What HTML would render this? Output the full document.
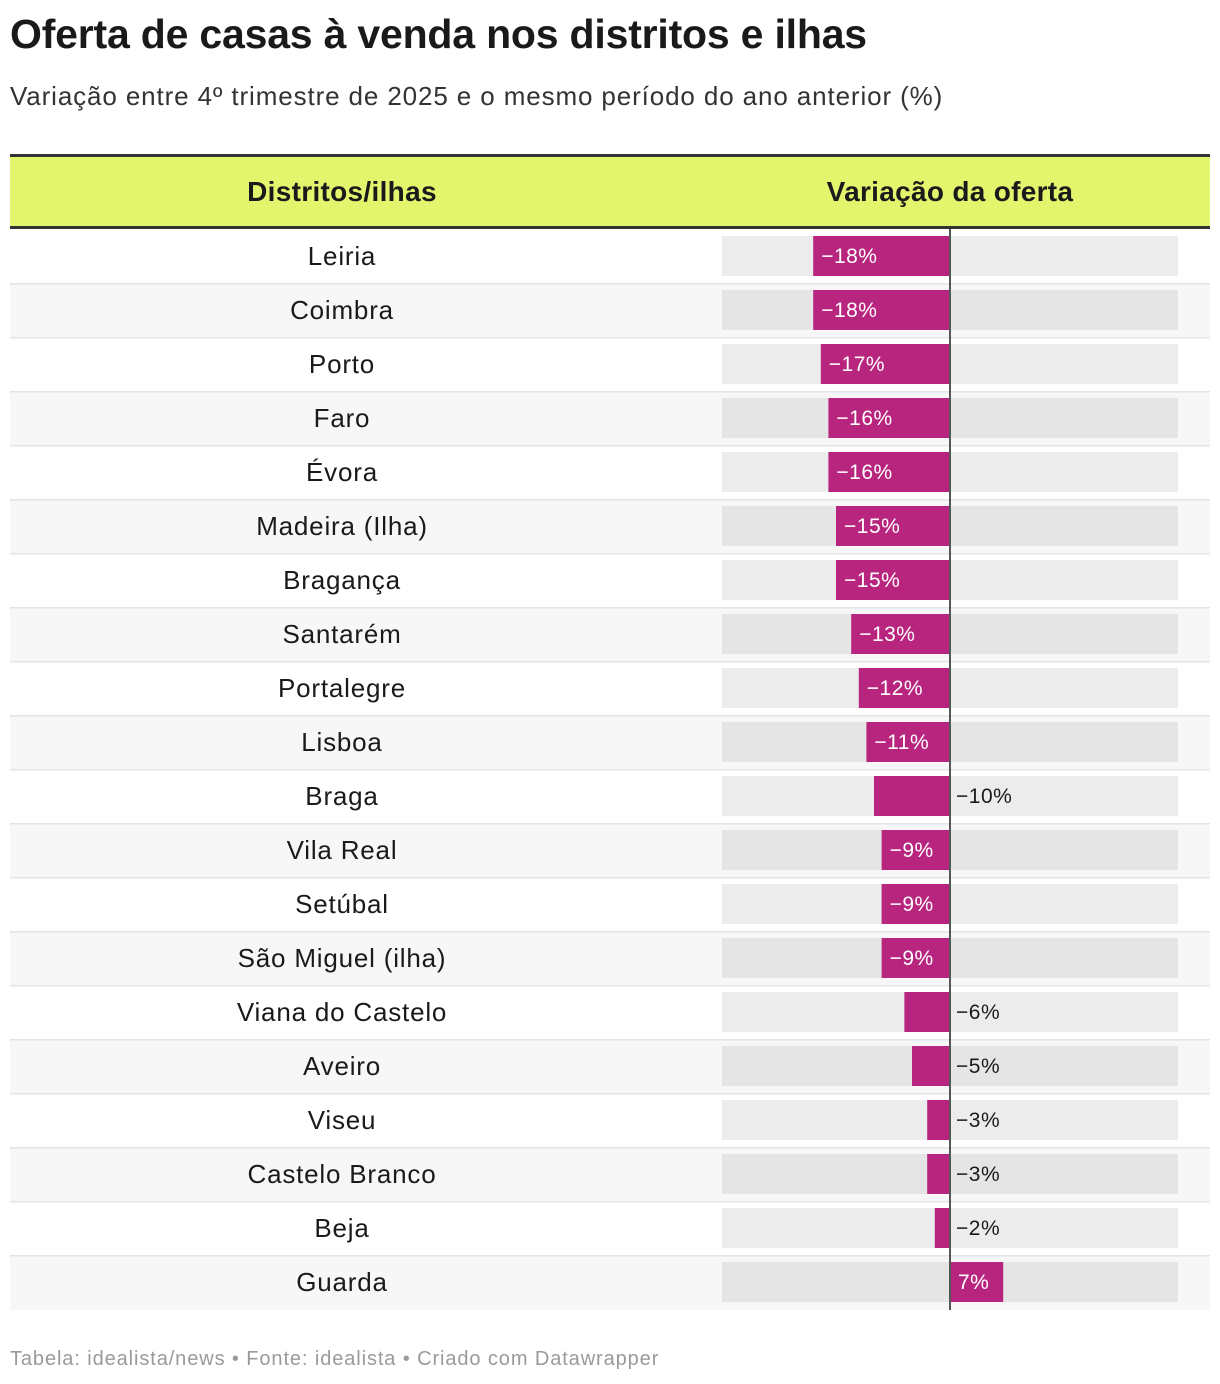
<!DOCTYPE html>
<html><head><meta charset="utf-8">
<style>
body{margin:0;width:1220px;height:1384px;background:#fff;font-family:"Liberation Sans",sans-serif;color:#1a1a1a;position:relative;overflow:hidden}
.abs{position:absolute}
#title{left:10px;top:11px;font-size:41px;font-weight:bold;letter-spacing:-0.2px}
#sub{left:10px;top:81px;font-size:26px;color:#333;letter-spacing:0.88px}
#foot{left:10px;top:1348px;font-size:20px;color:#9a9a9a;letter-spacing:0.9px}
</style></head><body>
<div id="title" class="abs">Oferta de casas à venda nos distritos e ilhas</div>
<div id="sub" class="abs">Variação entre 4º trimestre de 2025 e o mesmo período do ano anterior (%)</div>
<svg id="chart" class="abs" style="left:0;top:0" width="1220" height="1340"></svg>
<div id="foot" class="abs">Tabela: idealista/news • Fonte: idealista • Criado com Datawrapper</div>
<script>
const categories=["Leiria","Coimbra","Porto","Faro","Évora","Madeira (Ilha)","Bragança","Santarém","Portalegre","Lisboa","Braga","Vila Real","Setúbal","São Miguel (ilha)","Viana do Castelo","Aveiro","Viseu","Castelo Branco","Beja","Guarda"];
const values=[-18,-18,-17,-16,-16,-15,-15,-13,-12,-11,-10,-9,-9,-9,-6,-5,-3,-3,-2,7];
const domain=[-30,30];
const NS="http://www.w3.org/2000/svg";
const svg=document.getElementById('chart');
const x0=722,x1=1178;
function xs(v){return x0+(v-domain[0])/(domain[1]-domain[0])*(x1-x0);}
function mk(t,a){const e=document.createElementNS(NS,t);for(const k in a)e.setAttribute(k,a[k]);svg.appendChild(e);return e;}
const top0=230,rh=54;
let e=mk('rect',{x:10,y:157,width:1200,height:70,fill:'#e2f56d'});


e=mk('rect',{x:10,y:154,width:1200,height:3,fill:'#333'});


e=mk('rect',{x:10,y:226,width:1200,height:3,fill:'#333'});


e=mk('text',{x:342,y:201,'text-anchor':'middle','font-size':28,'font-weight':'bold',fill:'#1a1a1a','letter-spacing':'0.3'});
e.textContent='Distritos/ilhas';


e=mk('text',{x:950,y:201,'text-anchor':'middle','font-size':28,'font-weight':'bold',fill:'#1a1a1a','letter-spacing':'0.3'});
e.textContent='Variação da oferta';


const zx=xs(0);
categories.forEach((c,i)=>{
  const y=top0+i*rh;
  const alt=i%2==1;
  let r=mk('rect',{x:10,y:y,width:1200,height:rh,fill:alt?'#f7f7f7':'#fff'});
  
  
  if(i>0){let l=mk('rect',{x:10,y:y-1,width:1200,height:1.5,fill:'#e4e4e4'});
  
  }
  let t=mk('text',{x:342,y:y+35,'text-anchor':'middle','font-size':26,fill:'#1a1a1a','letter-spacing':'0.8'});
  t.textContent=c;
  
  
  let bg=mk('rect',{x:x0,y:y+6,width:x1-x0,height:40,fill:alt?'#e5e5e5':'#ececec'});
  
  
  const v=values[i];
  const bx=Math.min(xs(v),zx),bw=Math.abs(xs(v)-zx);
  let b=mk('rect',{x:bx,y:y+6,width:bw,height:40,fill:'#b7257f'});
  
  
  const lab=(v<0?'−':'')+Math.abs(v)+'%';
  const lw=lab.length*13+14;
  let tx,fill;
  if(bw>=lw+12){tx=bx+8;fill='#fff';}else{tx=zx+6;fill='#1a1a1a';}
  let vt=mk('text',{x:tx,y:y+33,'font-size':21,fill:fill,'letter-spacing':'0.5'});
  vt.textContent=lab;
  
  
});
e=mk('rect',{x:zx-1,y:229,width:2,height:rh*categories.length+1,fill:'#555'});


</script>
</body></html>
